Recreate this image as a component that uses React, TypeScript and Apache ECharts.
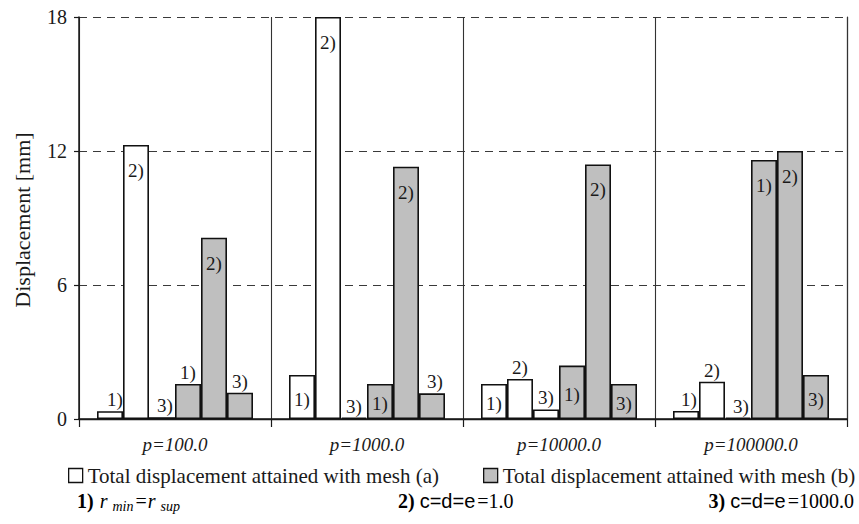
import React, { useEffect, useRef } from "react";
import * as echarts from "echarts";

const categories = ["p=100.0", "p=1000.0", "p=10000.0", "p=100000.0"];
const yTicks = [0, 6, 12, 18];

// mesh (a): white bars, conditions 1), 2), 3)
const meshA1 = [0.35, 1.97, 1.57, 0.36];
const meshA2 = [12.27, 18.0, 1.79, 1.67];
const meshA3 = [0.08, 0.06, 0.43, 0.06];
// mesh (b): grey bars, conditions 1), 2), 3)
const meshB1 = [1.57, 1.57, 2.39, 11.6];
const meshB2 = [8.12, 11.3, 11.4, 12.0];
const meshB3 = [1.18, 1.15, 1.57, 1.97];

const tags = ["1)", "2)", "3)"];
const legendA = "Total displacement attained with mesh (a)";
const legendB = "Total displacement attained with mesh (b)";

// label placement per bar: T = above, I = inside middle, IT = inside top
const placeA1 = ["T", "I", "I", "T"];
const placeA2 = ["IT", "IT", "T", "T"];
const placeA3 = ["T", "T", "T", "T"];
const placeB1 = ["T", "I", "I", "IT"];
const placeB2 = ["IT", "IT", "IT", "IT"];
const placeB3 = ["T", "T", "I", "I"];
const shiftA1 = [5, 0, 0, 3];
const shiftA3 = [3, 0, 0, 3];
const shiftB3 = [0, 3, 0, 0];
const zero = [0, 0, 0, 0];

const SERIF = "Liberation Serif";
const SANS = "Liberation Sans";
const INK = "#1a1a1a";

function labelFor(p: string, dx: number, tag: string) {
  const base = {
    show: true,
    formatter: tag,
    color: INK,
    fontFamily: SERIF,
    fontSize: 19,
  };
  if (p === "T") return { ...base, position: "top", distance: 2, offset: [dx, 0] };
  if (p === "IT") return { ...base, position: "insideTop", distance: 5, offset: [0, 11] };
  return { ...base, position: "inside", offset: [0, 2] };
}

function makeSeries(
  name: string,
  values: number[],
  tag: string,
  fill: string,
  place: string[],
  shift: number[]
) {
  return {
    type: "bar",
    name,
    barWidth: 26,
    barGap: "0%",
    itemStyle: { color: fill, borderColor: "#111", borderWidth: 1.6 },
    data: values.map((v, i) => ({ value: v, label: labelFor(place[i], shift[i], tag) })),
  };
}

const noteRich = {
  b: { fontFamily: SERIF, fontWeight: "bold", fontSize: 20, color: INK, lineHeight: 22 },
  i: { fontFamily: SERIF, fontStyle: "italic", fontSize: 20, color: INK, lineHeight: 22, padding: [0, 0, 0, 6] },
  j: { fontFamily: SERIF, fontStyle: "italic", fontSize: 20, color: INK, lineHeight: 22, padding: [0, 0, 0, 1] },
  sub: { fontFamily: SERIF, fontStyle: "italic", fontSize: 14, color: INK, lineHeight: 14, padding: [10, 0, 0, 5] },
  n: { fontFamily: SERIF, fontSize: 20, color: INK, lineHeight: 22, padding: [0, 0, 0, 2] },
  s: { fontFamily: SANS, fontSize: 20, color: INK, lineHeight: 22, padding: [0, 0, 0, 5] },
};

export default function App() {
  const ref = useRef<HTMLDivElement>(null);
  useEffect(() => {
    if (!ref.current) return;
    const chart = echarts.init(ref.current, null, { renderer: "svg" });
    const legendText = { fontFamily: SERIF, fontSize: 21, color: INK };
    const option = {
      animation: false,
      backgroundColor: "#ffffff",
      textStyle: { fontFamily: SERIF },
      grid: { left: 79, right: 12, top: 17, bottom: 105 },
      legend: [
        {
          left: 68,
          top: 465,
          padding: 0,
          itemWidth: 14,
          itemHeight: 14,
          textStyle: legendText,
          data: [
            {
              name: legendA,
              icon: "rect",
              itemStyle: { color: "#ffffff", borderColor: "#111", borderWidth: 1.3 },
            },
          ],
        },
        {
          left: 483,
          top: 465,
          padding: 0,
          itemWidth: 14,
          itemHeight: 14,
          textStyle: legendText,
          data: [
            {
              name: legendB,
              icon: "rect",
              itemStyle: { color: "#bfbfbf", borderColor: "#111", borderWidth: 1.3 },
            },
          ],
        },
      ],
      xAxis: [
        {
          type: "category",
          data: categories,
          axisLine: { lineStyle: { color: INK, width: 1.5 } },
          axisTick: { show: true, length: 8, lineStyle: { color: INK, width: 1.2 } },
          axisLabel: {
            fontFamily: SERIF,
            fontStyle: "italic",
            fontSize: 19,
            color: INK,
            margin: 16,
          },
          splitLine: { show: true, lineStyle: { color: "#333", width: 1.1 } },
        },
        {
          type: "category",
          data: categories,
          position: "top",
          axisLine: { lineStyle: { color: INK, width: 1.3 } },
          axisTick: { show: false },
          axisLabel: { show: false },
          splitLine: { show: false },
        },
      ],
      yAxis: [
        {
          type: "value",
          min: 0,
          max: 18,
          interval: 6,
          axisLine: { show: true, lineStyle: { color: INK, width: 1.5 } },
          axisTick: { show: true, length: 5, lineStyle: { color: INK, width: 1.2 } },
          axisLabel: {
            fontFamily: SERIF,
            fontSize: 20,
            color: INK,
            margin: 12,
            formatter: (v: number) => (yTicks.includes(v) ? String(v) : ""),
          },
          splitLine: { show: true, lineStyle: { color: "#3a3a3a", width: 1.2, type: [8, 6] } },
        },
        {
          type: "value",
          min: 0,
          max: 18,
          interval: 6,
          position: "right",
          axisLine: { show: true, lineStyle: { color: "#333", width: 1.2 } },
          axisTick: { show: false },
          axisLabel: { show: false },
          splitLine: { show: false },
        },
      ],
      series: [
        makeSeries(legendA, meshA1, tags[0], "#ffffff", placeA1, shiftA1),
        makeSeries(legendA, meshA2, tags[1], "#ffffff", placeA2, zero),
        makeSeries(legendA, meshA3, tags[2], "#ffffff", placeA3, shiftA3),
        makeSeries(legendB, meshB1, tags[0], "#bfbfbf", placeB1, zero),
        makeSeries(legendB, meshB2, tags[1], "#bfbfbf", placeB2, zero),
        makeSeries(legendB, meshB3, tags[2], "#bfbfbf", placeB3, shiftB3),
      ],
      graphic: [
        {
          type: "text",
          x: 22,
          y: 220,
          rotation: Math.PI / 2,
          style: {
            text: "Displacement [mm]",
            fontFamily: SERIF,
            fontSize: 22,
            fill: INK,
            align: "center",
            verticalAlign: "middle",
          },
        },
        {
          type: "text",
          x: 77,
          y: 501,
          style: {
            text: "{b|1)}{i|r}{sub|min}{n|=}{j|r}{sub|sup}",
            verticalAlign: "middle",
            rich: noteRich,
          },
        },
        {
          type: "text",
          x: 398,
          y: 501,
          style: {
            text: "{b|2)}{s|c=d=e}{n|=1.0}",
            verticalAlign: "middle",
            rich: noteRich,
          },
        },
        {
          type: "text",
          x: 854,
          y: 501,
          style: {
            text: "{b|3)}{s|c=d=e}{n|=1000.0}",
            align: "right",
            verticalAlign: "middle",
            rich: noteRich,
          },
        },
      ],
    };
    chart.setOption(option as any);
    return () => chart.dispose();
  }, []);
  return (
    <div
      ref={ref}
      style={{ position: "fixed", left: 0, top: 0, width: 859, height: 524, background: "#fff" }}
    />
  );
}
